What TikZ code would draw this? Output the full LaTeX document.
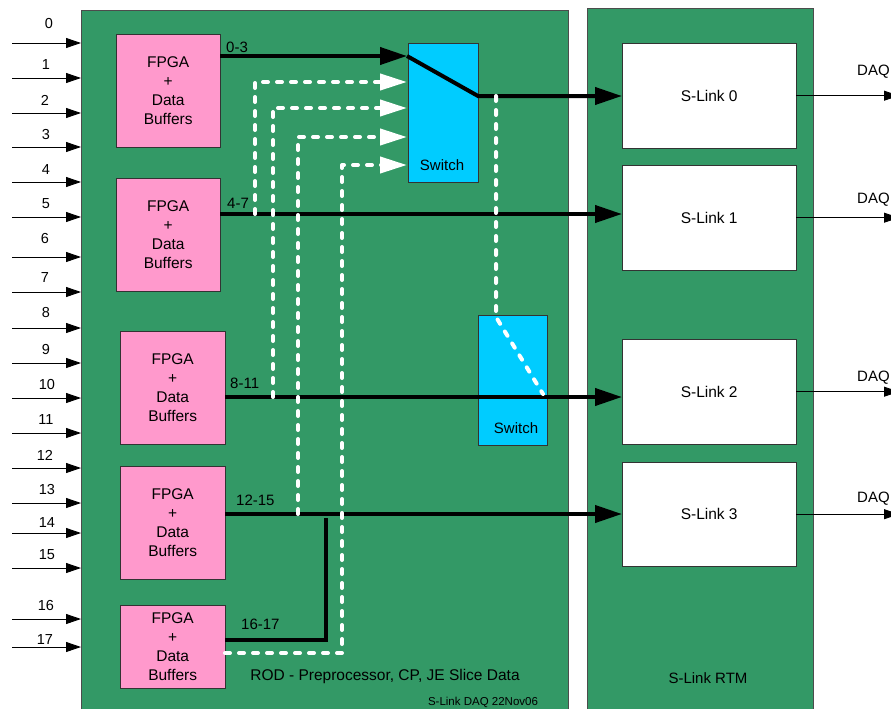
\documentclass[tikz,border=0pt]{standalone}
\usepackage{fontspec}
\setmainfont{Liberation Sans}
\usetikzlibrary{arrows.meta}
\definecolor{rodgreen}{RGB}{51,153,102}
\definecolor{fpgapink}{RGB}{255,153,204}
\definecolor{swcyan}{RGB}{0,204,255}

\begin{document}
\begin{tikzpicture}[
  x=1pt, y=-1pt,
  panel/.style={rectangle, draw=black!70, fill=rodgreen, anchor=north west, inner sep=0pt},
  fpga/.style={rectangle, draw=black!80, fill=fpgapink, anchor=north west, inner sep=0pt,
    minimum width=105, minimum height=113, align=center, font=\fontsize{15.5}{19}\selectfont},
  swbox/.style={rectangle, draw=black!80, fill=swcyan, anchor=north west, inner sep=0pt,
    minimum width=70, minimum height=139},
  slink/.style={rectangle, draw=black!80, fill=white, anchor=north west, inner sep=0pt,
    minimum width=174, minimum height=105, font=\fontsize{15.5}{18}\selectfont},
  lbl/.style={inner sep=0pt, font=\fontsize{15}{18}\selectfont},
  num/.style={inner sep=0pt, font=\fontsize{14.5}{17}\selectfont},
  bus/.style={black, line width=4pt},
  busarrow/.style={bus, -{Triangle[length=27pt,width=17pt]}},
  route/.style={white, line width=4pt, dash pattern=on 5pt off 9pt, line cap=round, line join=round},
  routearrow/.style={route, -{Triangle[length=27pt,width=16pt,fill=white]}},
  inarrow/.style={black, line width=0.9pt, -{Triangle[length=15pt,width=10pt]}},
]
\useasboundingbox (0,0) rectangle (891,709);

% --- Boards ---
\node[panel, minimum width=487, minimum height=705] (rod) at (81,10) {};
\node[panel, minimum width=226, minimum height=710] (rtm) at (587,8) {};

% --- Input links ---
\foreach \i/\y/\ly/\lx in {0/43/24/49, 1/78/65/46, 2/113/100/45, 3/147/135/46,
    4/182/170/46, 5/217/204/46, 6/257/239/45, 7/292/278/45, 8/328/313/46,
    9/363/350/46, 10/398/385/47, 11/433/420/46, 12/468/455/45, 13/503/490/47,
    14/533/523/47, 15/568/555/47, 16/619/606/46, 17/647/640/45} {
  \coordinate (in\i) at (12,\y);
  \draw[inarrow] (in\i) -- (in\i -| rod.west);
  \node[num] (n\i) at (\lx,\ly) {\i};
}

% --- FPGA blocks ---
\node[fpga, minimum width=104] (f0) at (116,34) {FPGA\\+\\Data\\Buffers};
\node[fpga, minimum width=104] (f1) at (116,178) {FPGA\\+\\Data\\Buffers};
\node[fpga] (f2) at (120,331) {FPGA\\+\\Data\\Buffers};
\node[fpga] (f3) at (120,466) {FPGA\\+\\Data\\Buffers};
\node[fpga, minimum height=83] (f4) at (120,605) {FPGA\\+\\Data\\Buffers};

% --- Switches ---
\node[swbox] (sw0) at (408,43) {};
\node[swbox, minimum width=69, minimum height=130] (sw1) at (478,315) {};
\node[lbl] (sw0t) at (442,165) {Switch};
\node[lbl] (sw1t) at (516,428) {Switch};

% --- S-Link cards ---
\node[slink] (sl0) at (622,43) {S-Link 0};
\node[slink] (sl1) at (622,165) {S-Link 1};
\node[slink] (sl2) at (622,339) {S-Link 2};
\node[slink, minimum height=104] (sl3) at (622,462) {S-Link 3};

% --- Ports ---
\coordinate (p0) at (407,56);
\coordinate (p1) at (407,82);
\coordinate (p2) at (407,108);
\coordinate (p3) at (407,137);
\coordinate (p4) at (407,165);
\coordinate (swo) at (478,96);
\coordinate (o1) at (220,214);
\coordinate (o2) at (225,397);
\coordinate (o3) at (225,514);
\coordinate (o4) at (225,640);
\coordinate (o5) at (225,653);
\coordinate (j4) at (326,518);

% --- Data paths (black) ---
\draw[busarrow] (f0.east |- p0) -- (p0);
\draw[busarrow] (p0) -- (swo) -- (swo -| sl0.west);
\draw[busarrow] (o1) -- (o1 -| sl1.west);
\draw[busarrow] (o2) -- (o2 -| sl2.west);
\draw[busarrow] (o3) -- (o3 -| sl3.west);
\draw[bus] (o4) -| (j4);

\node[lbl, anchor=west] (l0) at (226,47) {0-3};
\node[lbl, anchor=west] (l1) at (227,203) {4-7};
\node[lbl, anchor=west] (l2) at (230,383) {8-11};
\node[lbl, anchor=west] (l3) at (236,500) {12-15};
\node[lbl, anchor=west] (l4) at (241,624) {16-17};

% --- Switched paths (white dashed) ---
\coordinate (t1) at (255,214);
\coordinate (t2) at (273,397);
\coordinate (t3) at (298,514);
\coordinate (t4) at (342,653);
\coordinate (t5) at (496,96);
\coordinate (t6) at (496,317);
\coordinate (t7) at (543,394);
\draw[routearrow] (t1) |- (p1);
\draw[routearrow] (t2) |- (p2);
\draw[routearrow] (t3) |- (p3);
\draw[routearrow] (o5) -- (t4) |- (p4);
\draw[route] (t5) -- (t6) -- (t7);

% --- DAQ outputs ---
\coordinate (dx) at (899,0);
\foreach \k/\qy in {0/72, 1/200, 2/378, 3/499} {
  \draw[inarrow] (sl\k.east) -- (sl\k.east -| dx);
  \node[lbl, anchor=west] (q\k) at (857,\qy) {DAQ};
}

% --- Board titles ---
\node[lbl, font=\fontsize{15.5}{18}\selectfont] (rodt) at (385,676) {ROD - Preprocessor, CP, JE Slice Data};
\node[inner sep=0pt, font=\fontsize{11.5}{13}\selectfont] (date) at (483,702) {S-Link DAQ 22Nov06};
\node[lbl] (rtmt) at (708,678) {S-Link RTM};
\end{tikzpicture}
\end{document}
